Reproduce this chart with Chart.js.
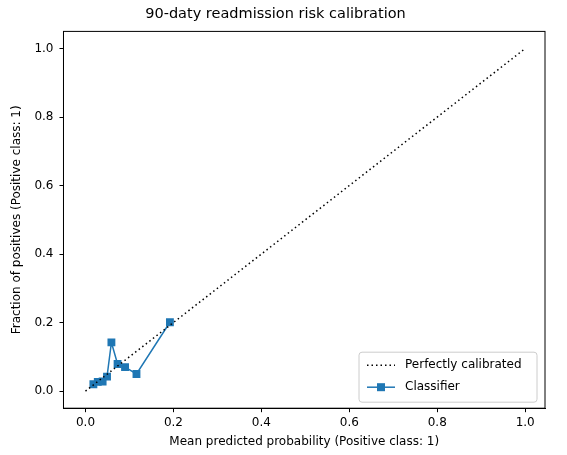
<!DOCTYPE html>
<html><head><meta charset="utf-8">
<script src="https://cdn.jsdelivr.net/npm/chart.js@4"></script>
<style>html,body{margin:0;background:#fff}#wrap{width:567px;height:455px}</style>
</head><body><div id="wrap"><canvas id="c"></canvas></div>
<script>
"use strict";
const meanPredicted = [0.018, 0.028, 0.039, 0.049, 0.059, 0.073, 0.090, 0.116, 0.192];
const fractionPositives = [0.020, 0.027, 0.028, 0.042, 0.142, 0.079, 0.070, 0.050, 0.201];
const diagonal = [0, 1];
const ticks = [0, 0.2, 0.4, 0.6, 0.8, 1.0];

const font = { family: "DejaVu Sans", size: 12 };
Chart.defaults.font = font;
Chart.defaults.color = "#000";

const tickGrid = { display: true, drawOnChartArea: false, drawTicks: true, tickLength: 4, color: "#000" };

// légende dessinée à la main, en bas à droite comme matplotlib
const legendBox = { id: "legendBox", afterDraw(ch) {
  const a = ch.chartArea, c = ch.ctx;
  const w = 178, h = 50, x = a.right - w - 8, y = a.bottom - h - 6;
  c.save();
  c.fillStyle = "rgba(255,255,255,0.8)"; c.strokeStyle = "#ccc"; c.lineWidth = 1;
  c.beginPath(); c.roundRect(x, y, w, h, 3); c.fill(); c.stroke();
  c.font = "12px DejaVu Sans"; c.fillStyle = "#000"; c.textBaseline = "middle";
  // ligne pointillée
  c.strokeStyle = "#000"; c.lineWidth = 1.5; c.setLineDash([1.5, 3]);
  c.beginPath(); c.moveTo(x + 8, y + 13); c.lineTo(x + 36, y + 13); c.stroke();
  c.setLineDash([]);
  c.fillText("Perfectly calibrated", x + 46, y + 13);
  c.strokeStyle = "#1f77b4";
  c.beginPath(); c.moveTo(x + 8, y + 35); c.lineTo(x + 36, y + 35); c.stroke();
  c.fillStyle = "#1f77b4"; c.fillRect(x + 18, y + 31, 8, 8);
  c.fillStyle = "#000"; c.fillText("Classifier", x + 46, y + 35);
  c.restore();
} };

const frame = { id: "frame", afterDraw(ch) {
  const a = ch.chartArea, c = ch.ctx;
  c.save(); c.strokeStyle = "#000"; c.lineWidth = 1; c.strokeRect(a.left, a.top, a.width, a.height); c.restore();
} };

new Chart(document.getElementById("c"), {
  type: "scatter",
  data: { datasets: [
    { label: "Perfectly calibrated", data: diagonal.map(v => ({x: v, y: v})), showLine: true,
      borderColor: "#000", borderDash: [1.5, 3], borderWidth: 1.5, pointRadius: 0, fill: false },
    { label: "Classifier", data: meanPredicted.map((x, i) => ({x, y: fractionPositives[i]})), showLine: true,
      borderColor: "#1f77b4", backgroundColor: "#1f77b4", borderWidth: 1.5,
      pointStyle: "rect", pointRadius: 4.5 }
  ]},
  options: {
    responsive: true, maintainAspectRatio: false, animation: false,
    layout: { padding: { left: 6, right: 22, top: 4, bottom: 4 } },
    plugins: {
      title: { display: true, text: "90-daty readmission risk calibration", font: { family: "DejaVu Sans", size: 14.5, weight: "normal" }, padding: { top: 2, bottom: 8 } },
      legend: { display: false },
      tooltip: { enabled: false }
    },
    scales: {
      x: { type: "linear", min: -0.05, max: 1.045, grid: tickGrid, border: { color: "#000" },
        afterBuildTicks: a => { a.ticks = ticks.map(v => ({value: v})); },
        ticks: { callback: v => v.toFixed(1), font, padding: 3 },
        title: { display: true, text: "Mean predicted probability (Positive class: 1)", font, padding: 2 } },
      y: { type: "linear", min: -0.05, max: 1.05, grid: tickGrid, border: { color: "#000" },
        afterBuildTicks: a => { a.ticks = ticks.map(v => ({value: v})); },
        ticks: { callback: v => v.toFixed(1), font, padding: 6 },
        title: { display: true, text: "Fraction of positives (Positive class: 1)", font, padding: 4 } }
    }
  },
  plugins: [frame, legendBox]
});
</script></body></html>
